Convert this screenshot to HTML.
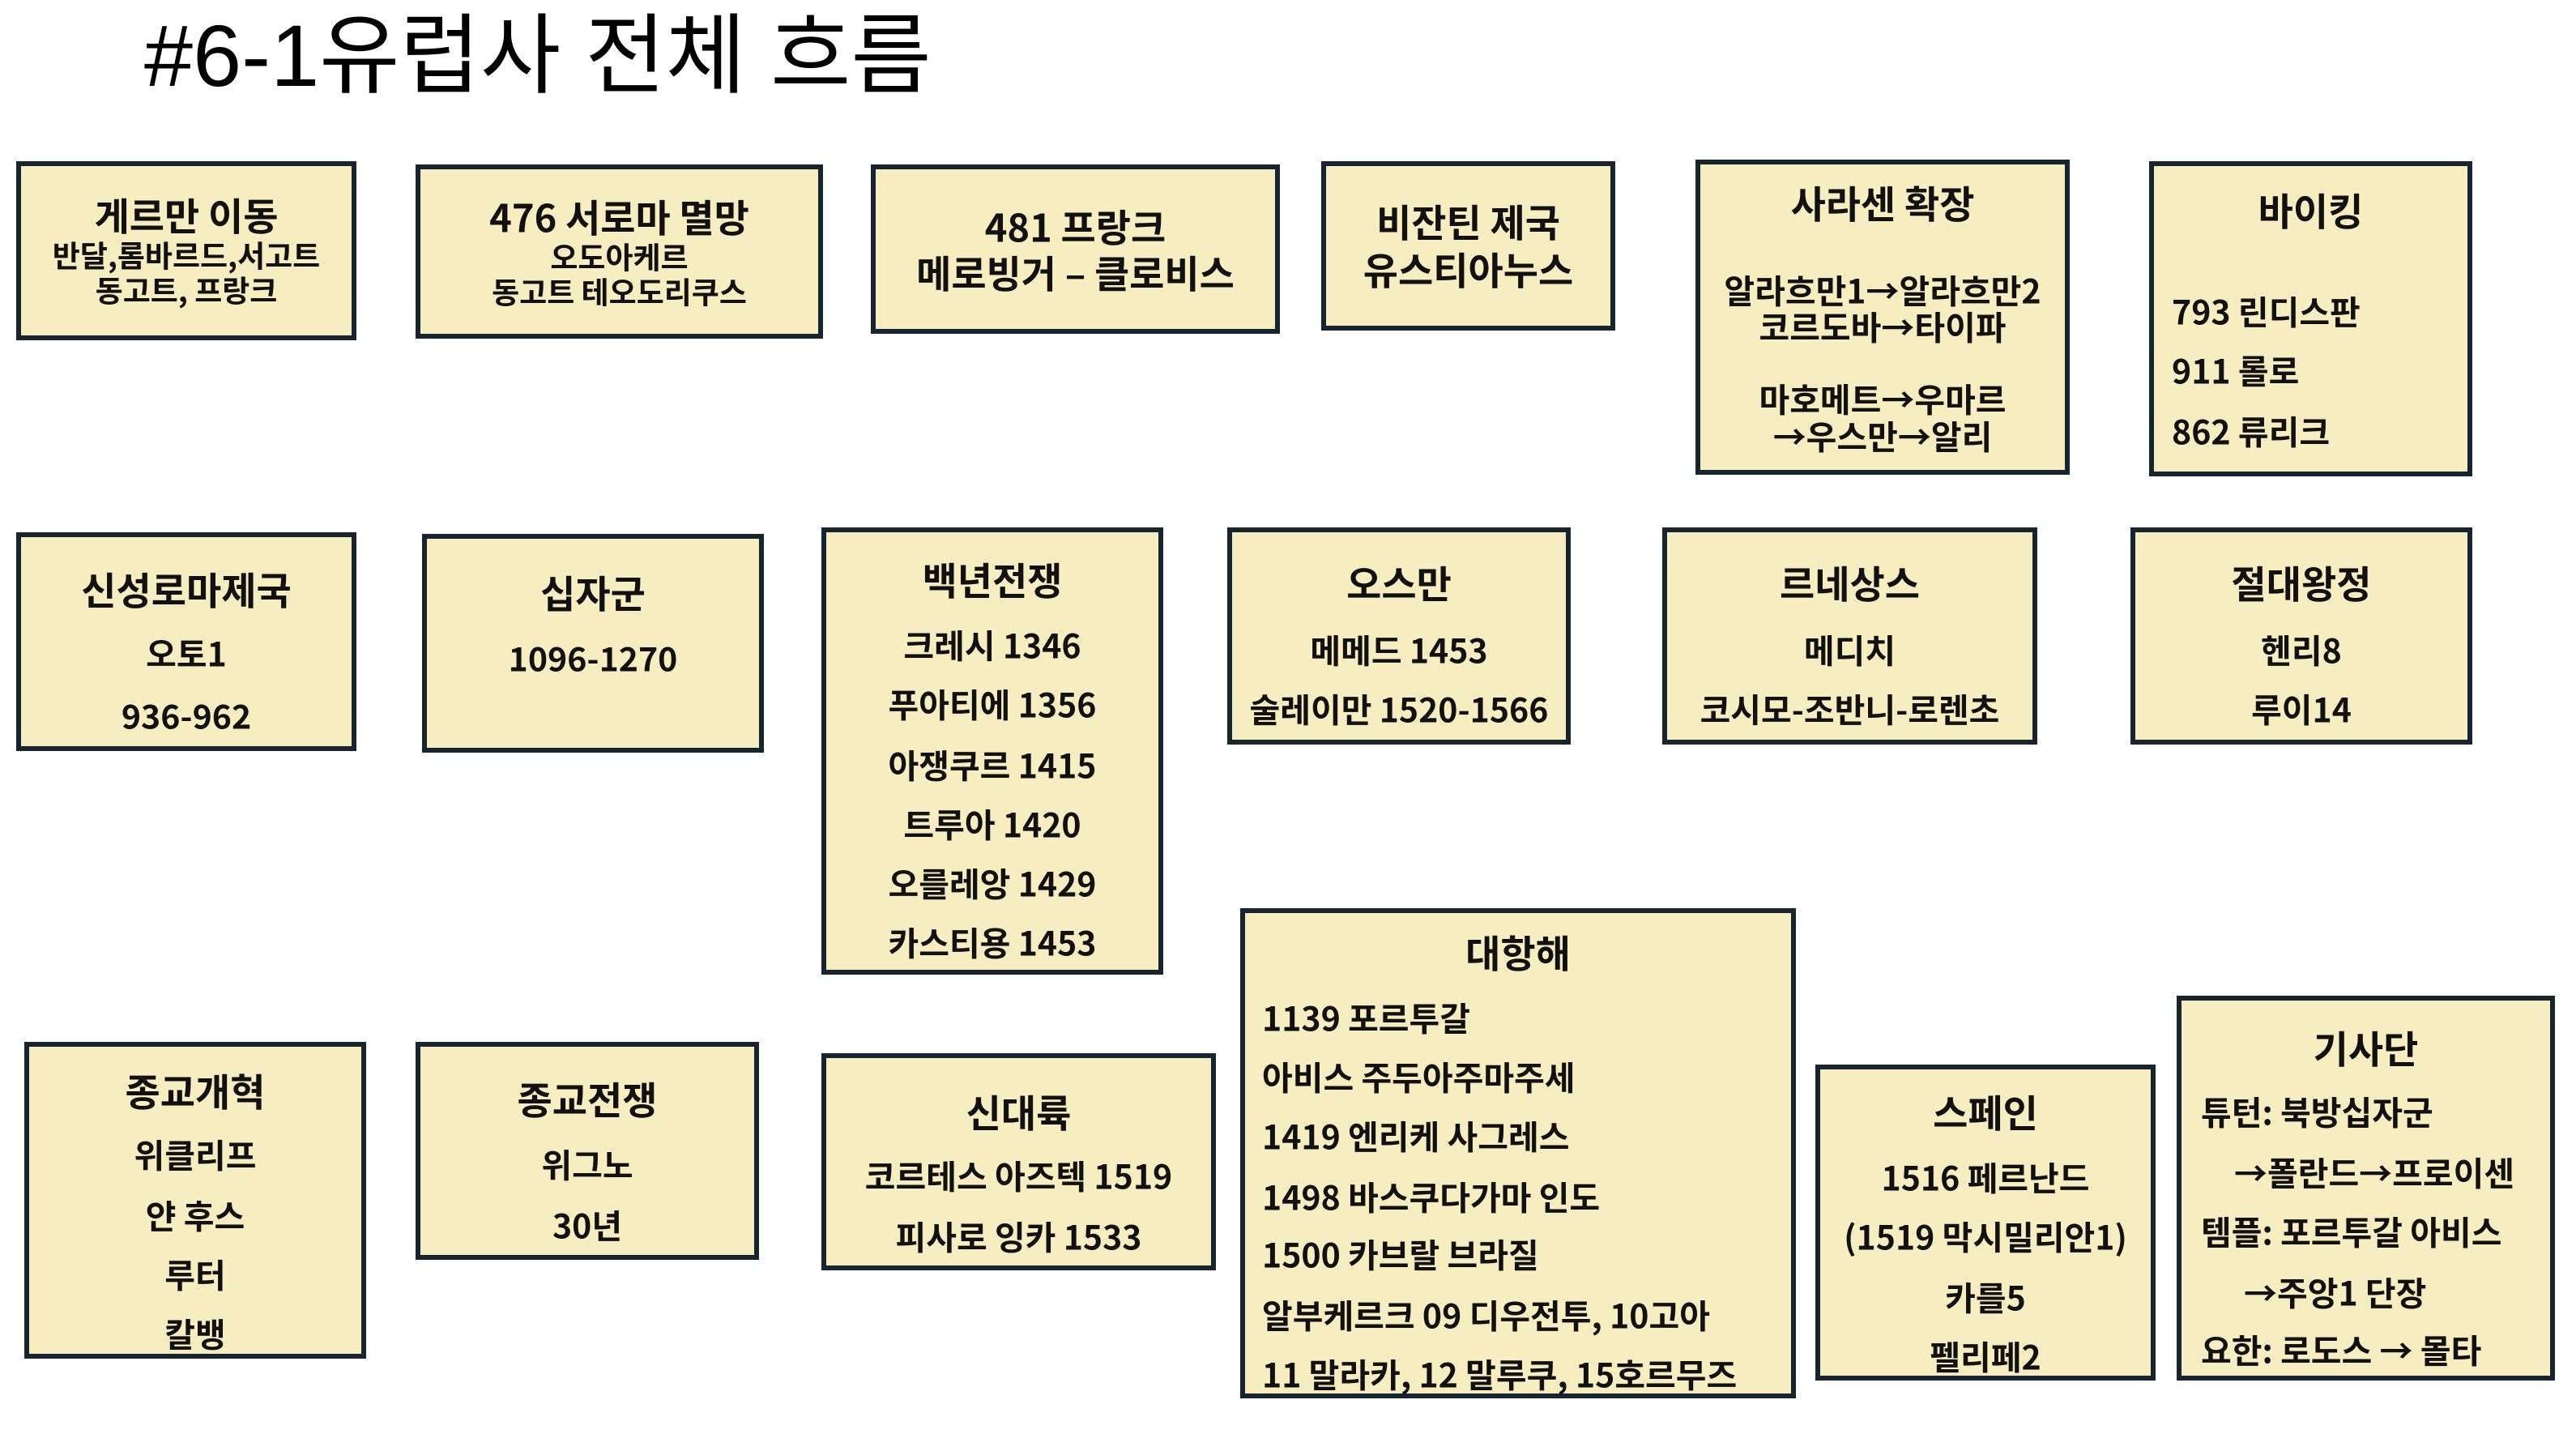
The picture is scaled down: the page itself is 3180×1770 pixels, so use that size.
<!DOCTYPE html>
<html><head><meta charset="utf-8"><style>
body{margin:0;width:3180px;height:1770px;background:#fff;position:relative;overflow:hidden;font-family:"Noto Sans CJK KR","Liberation Sans",sans-serif;}
.b{position:absolute;box-sizing:border-box;background:#f6edc1;border:6px solid #17252f;}
.l{position:absolute;white-space:nowrap;line-height:1;transform:translateY(-50%);font-weight:bold;color:#111;font-size:41px;text-align:center;}
.h{font-size:47px;}
.s{font-size:37px;}
.t{position:absolute;left:178px;top:10px;font-size:108px;line-height:1.1;font-family:"Liberation Sans","Noto Sans CJK KR",sans-serif;color:#000;}
</style></head><body>
<div class="t">#6-1유럽사 전체 흐름</div>

<div class="b" style="left:20px;top:199px;width:420px;height:221px"></div>
<div class="l h" style="left:20px;width:420px;top:264px">게르만 이동</div>
<div class="l s" style="left:20px;width:420px;top:314px">반달,롬바르드,서고트</div>
<div class="l s" style="left:20px;width:420px;top:357px">동고트, 프랑크</div>

<div class="b" style="left:513px;top:203px;width:503px;height:215px"></div>
<div class="l h" style="left:513px;width:503px;top:266px">476 서로마 멸망</div>
<div class="l s" style="left:513px;width:503px;top:316px">오도아케르</div>
<div class="l s" style="left:513px;width:503px;top:359px">동고트 테오도리쿠스</div>

<div class="b" style="left:1075px;top:203px;width:505px;height:209px"></div>
<div class="l h" style="left:1075px;width:505px;top:278px">481 프랑크</div>
<div class="l h" style="left:1075px;width:505px;top:335px">메로빙거 – 클로비스</div>

<div class="b" style="left:1631px;top:199px;width:363px;height:209px"></div>
<div class="l h" style="left:1631px;width:363px;top:272px">비잔틴 제국</div>
<div class="l h" style="left:1631px;width:363px;top:331px">유스티아누스</div>

<div class="b" style="left:2093px;top:197px;width:462px;height:389px"></div>
<div class="l h" style="left:2093px;width:462px;top:249px">사라센 확장</div>
<div class="l" style="left:2093px;width:462px;top:357px">알라흐만1→알라흐만2</div>
<div class="l" style="left:2093px;width:462px;top:402px">코르도바→타이파</div>
<div class="l" style="left:2093px;width:462px;top:491px">마호메트→우마르</div>
<div class="l" style="left:2093px;width:462px;top:537px">→우스만→알리</div>

<div class="b" style="left:2653px;top:199px;width:399px;height:389px"></div>
<div class="l h" style="left:2653px;width:399px;top:258px">바이킹</div>
<div class="l" style="left:2681px;text-align:left;top:383px">793 린디스판</div>
<div class="l" style="left:2681px;text-align:left;top:456px">911 롤로</div>
<div class="l" style="left:2681px;text-align:left;top:531px">862 류리크</div>

<div class="b" style="left:20px;top:657px;width:420px;height:270px"></div>
<div class="l h" style="left:20px;width:420px;top:726px">신성로마제국</div>
<div class="l" style="left:20px;width:420px;top:805px">오토1</div>
<div class="l" style="left:20px;width:420px;top:882px">936-962</div>

<div class="b" style="left:521px;top:659px;width:422px;height:270px"></div>
<div class="l h" style="left:521px;width:422px;top:730px">십자군</div>
<div class="l" style="left:521px;width:422px;top:811px">1096-1270</div>

<div class="b" style="left:1014px;top:651px;width:422px;height:552px"></div>
<div class="l h" style="left:1014px;width:422px;top:714px">백년전쟁</div>
<div class="l" style="left:1014px;width:422px;top:795px">크레시 1346</div>
<div class="l" style="left:1014px;width:422px;top:868px">푸아티에 1356</div>
<div class="l" style="left:1014px;width:422px;top:943px">아쟁쿠르 1415</div>
<div class="l" style="left:1014px;width:422px;top:1016px">트루아 1420</div>
<div class="l" style="left:1014px;width:422px;top:1089px">오를레앙 1429</div>
<div class="l" style="left:1014px;width:422px;top:1162px">카스티용 1453</div>

<div class="b" style="left:1515px;top:651px;width:424px;height:268px"></div>
<div class="l h" style="left:1515px;width:424px;top:718px">오스만</div>
<div class="l" style="left:1515px;width:424px;top:801px">메메드 1453</div>
<div class="l" style="left:1515px;width:424px;top:874px">술레이만 1520-1566</div>

<div class="b" style="left:2052px;top:651px;width:463px;height:268px"></div>
<div class="l h" style="left:2052px;width:463px;top:718px">르네상스</div>
<div class="l" style="left:2052px;width:463px;top:801px">메디치</div>
<div class="l" style="left:2052px;width:463px;top:874px">코시모-조반니-로렌초</div>

<div class="b" style="left:2630px;top:651px;width:422px;height:268px"></div>
<div class="l h" style="left:2630px;width:422px;top:718px">절대왕정</div>
<div class="l" style="left:2630px;width:422px;top:801px">헨리8</div>
<div class="l" style="left:2630px;width:422px;top:874px">루이14</div>

<div class="b" style="left:30px;top:1286px;width:422px;height:391px"></div>
<div class="l h" style="left:30px;width:422px;top:1345px">종교개혁</div>
<div class="l" style="left:30px;width:422px;top:1424px">위클리프</div>
<div class="l" style="left:30px;width:422px;top:1499px">얀 후스</div>
<div class="l" style="left:30px;width:422px;top:1572px">루터</div>
<div class="l" style="left:30px;width:422px;top:1645px">칼뱅</div>

<div class="b" style="left:513px;top:1286px;width:424px;height:269px"></div>
<div class="l h" style="left:513px;width:424px;top:1355px">종교전쟁</div>
<div class="l" style="left:513px;width:424px;top:1436px">위그노</div>
<div class="l" style="left:513px;width:424px;top:1511px">30년</div>

<div class="b" style="left:1014px;top:1300px;width:487px;height:268px"></div>
<div class="l h" style="left:1014px;width:487px;top:1371px">신대륙</div>
<div class="l" style="left:1014px;width:487px;top:1450px">코르테스 아즈텍 1519</div>
<div class="l" style="left:1014px;width:487px;top:1525px">피사로 잉카 1533</div>

<div class="b" style="left:1531px;top:1121px;width:686px;height:605px"></div>
<div class="l h" style="left:1531px;width:686px;top:1174px">대항해</div>
<div class="l" style="left:1558px;text-align:left;top:1255px">1139 포르투갈</div>
<div class="l" style="left:1558px;text-align:left;top:1328px">아비스 주두아주마주세</div>
<div class="l" style="left:1558px;text-align:left;top:1401px">1419 엔리케 사그레스</div>
<div class="l" style="left:1558px;text-align:left;top:1476px">1498 바스쿠다가마 인도</div>
<div class="l" style="left:1558px;text-align:left;top:1547px">1500 카브랄 브라질</div>
<div class="l" style="left:1558px;text-align:left;top:1622px">알부케르크 09 디우전투, 10고아</div>
<div class="l" style="left:1558px;text-align:left;top:1695px">11 말라카, 12 말루쿠, 15호르무즈</div>

<div class="b" style="left:2241px;top:1314px;width:420px;height:390px"></div>
<div class="l h" style="left:2241px;width:420px;top:1371px">스페인</div>
<div class="l" style="left:2241px;width:420px;top:1452px">1516 페르난드</div>
<div class="l" style="left:2241px;width:420px;top:1525px">(1519 막시밀리안1)</div>
<div class="l" style="left:2241px;width:420px;top:1600px">카를5</div>
<div class="l" style="left:2241px;width:420px;top:1673px">펠리페2</div>

<div class="b" style="left:2687px;top:1229px;width:467px;height:475px"></div>
<div class="l h" style="left:2687px;width:467px;top:1292px">기사단</div>
<div class="l" style="left:2717px;text-align:left;top:1371px">튜턴: 북방십자군</div>
<div class="l" style="left:2758px;text-align:left;top:1446px">→폴란드→프로이센</div>
<div class="l" style="left:2717px;text-align:left;top:1519px">템플: 포르투갈 아비스</div>
<div class="l" style="left:2770px;text-align:left;top:1594px">→주앙1 단장</div>
<div class="l" style="left:2717px;text-align:left;top:1665px">요한: 로도스 → 몰타</div>
</body></html>
